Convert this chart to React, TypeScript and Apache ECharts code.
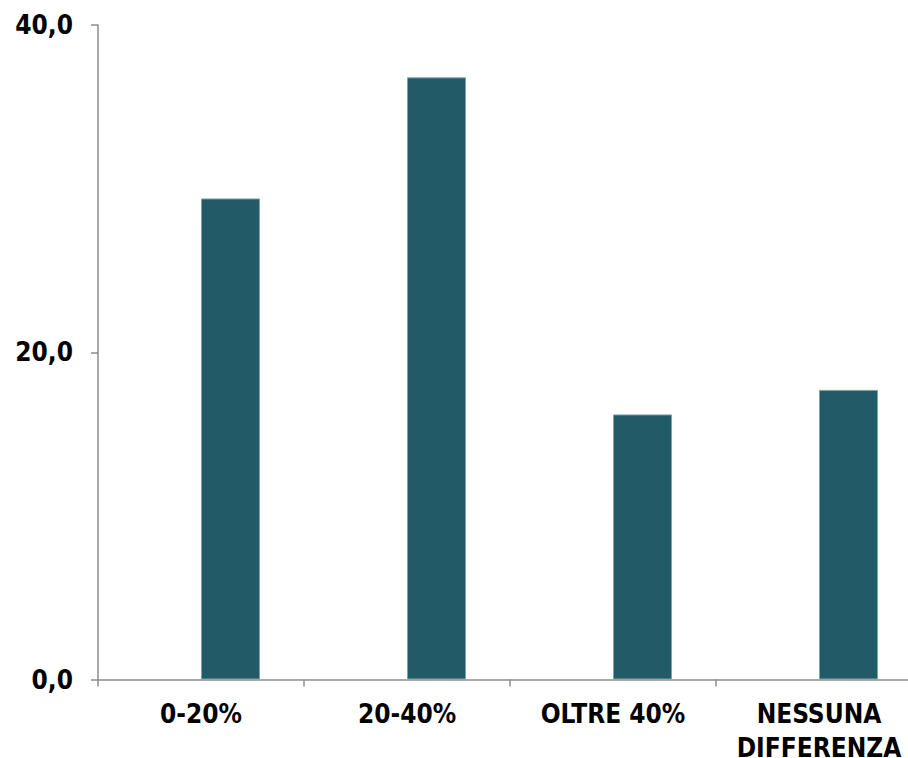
import React, { useEffect, useRef } from "react";
import * as echarts from "echarts";

const categories = ["0-20%", "20-40%", "OLTRE 40%", "NESSUNA\nDIFFERENZA"];
const values = [29.4, 36.8, 16.2, 17.7];
const emptyValues = [null, null, null, null];

export default function App() {
  const ref = useRef<HTMLDivElement>(null);
  useEffect(() => {
    if (!ref.current) return;
    const chart = echarts.init(ref.current, undefined, { renderer: "svg" });
    const font = "'DejaVu Sans Condensed', 'DejaVu Sans', Verdana, sans-serif";
    chart.setOption({
      animation: false,
      grid: { left: 98, right: 0, top: 25, bottom: 78.5, containLabel: false, outerBoundsMode: "none" },
      xAxis: {
        type: "category",
        data: categories,
        axisLine: { lineStyle: { color: "#8c8c8c", width: 1.5 } },
        axisTick: { show: true, length: 7, lineStyle: { color: "#8c8c8c", width: 1.5 } },
        axisLabel: {
          color: "#000",
          fontFamily: font,
          fontWeight: "bold",
          fontSize: 26,
          margin: 17,
          lineHeight: 34,
          interval: 0,
        },
        splitLine: { show: false },
      },
      yAxis: {
        type: "value",
        min: 0,
        max: 40,
        interval: 20,
        axisLine: { show: true, lineStyle: { color: "#8c8c8c", width: 1.5 } },
        axisTick: { show: true, length: 7, lineStyle: { color: "#8c8c8c", width: 1.5 } },
        splitLine: { show: false },
        axisLabel: {
          color: "#000",
          fontFamily: font,
          fontWeight: "bold",
          fontSize: 26,
          margin: 25,
          formatter: (v: number) => v.toFixed(1).replace(".", ","),
        },
      },
      series: [
        {
          type: "bar",
          data: emptyValues,
          barWidth: 59,
          barGap: "0%",
        },
        {
          type: "bar",
          data: values,
          barWidth: 59,
          barGap: "0%",
          itemStyle: { color: "#235A68", borderColor: "#7fa3ab", borderWidth: 1 },
        },
      ],
    });
    return () => chart.dispose();
  }, []);
  return (
    <div style={{ position: "fixed", left: 0, top: 0, width: 908, height: 758, overflow: "hidden", background: "#fff" }}>
      <div ref={ref} style={{ width: 922, height: 758 }} />
    </div>
  );
}
